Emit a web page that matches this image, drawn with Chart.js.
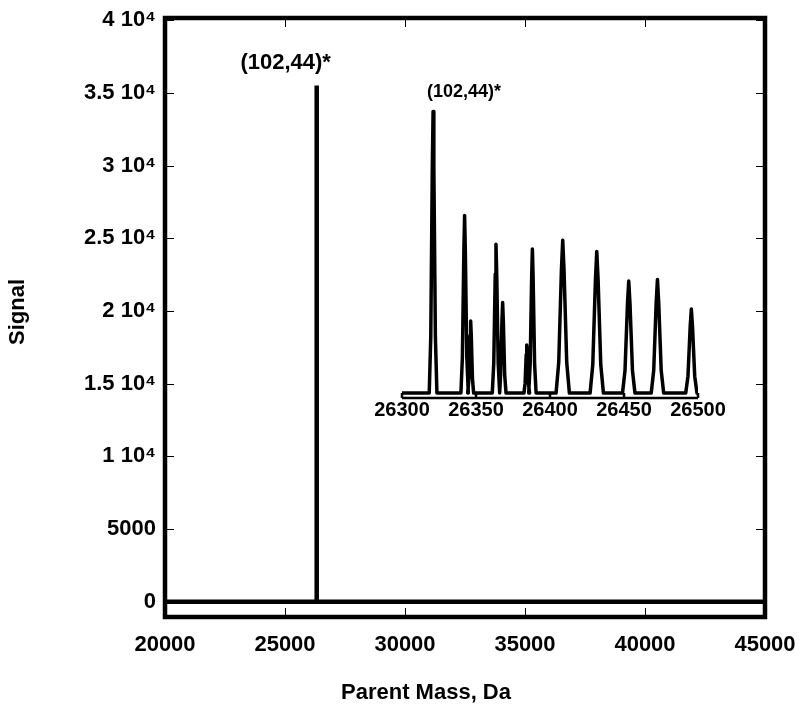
<!DOCTYPE html>
<html>
<head>
<meta charset="utf-8">
<script src="https://cdn.jsdelivr.net/npm/chart.js@4"></script>
<style>
  body { margin: 0; background: #fff; }
  #wrap { position: relative; width: 800px; height: 714px; }
  #main { position: absolute; left: 0; top: 0; }
  #inset { position: absolute; left: 360px; top: 70px; }
</style>
</head>
<body>
<div id="wrap">
  <canvas id="main" width="800" height="714"></canvas>
  <canvas id="inset" width="390" height="360"></canvas>
</div>
<script>
// main spectrum (one deconvoluted peak)
const mainMass = [20000, 26318, 26320, 26322, 45000];
const mainSignal = [0, 0, 35500, 0, 0];

const xTicks = [20000, 25000, 30000, 35000, 40000, 45000];
const yTicks = [0, 5000, 10000, 15000, 20000, 25000, 30000, 35000, 40000];
const yTickLabels = ["0", "5000", "1 10⁴", "1.5 10⁴", "2 10⁴", "2.5 10⁴", "3 10⁴", "3.5 10⁴", "4 10⁴"];

// inset: zoom on 26300-26500 Da
const insetMass = [26321, 26342.3, 26346.4, 26363.5, 26368, 26384.3, 26388.1, 26408.6, 26431.6, 26453.2, 26472.6, 26495.5];
const insetSignal = [35200, 22200, 9000, 18600, 11300, 6000, 18000, 19100, 17700, 14000, 14200, 10500];
const insetHalfWidth = [2.6, 2.5, 2, 2.5, 2.3, 1.9, 2.5, 4.5, 4.5, 4.2, 4.2, 3.8];
const insetTicks = [26300, 26350, 26400, 26450, 26500];

// peak outline used for every inset peak
const profileX = [-1, -0.6, -0.2, 0, 0.2, 0.6, 1];
const profileY = [0, 0.2, 0.8, 1, 0.8, 0.2, 0];

const peakLabel = "(102,44)*";
const FONT = "'Liberation Sans', Arial, sans-serif";

Chart.defaults.font.family = FONT;
Chart.defaults.font.weight = "bold";
Chart.defaults.color = "#000";

const mainPoints = mainMass.map((m, i) => ({ x: m, y: mainSignal[i] }));

const insetPoints = [{ x: 26300, y: 0 }];
insetMass.forEach((m, i) => {
  profileX.forEach((p, j) => {
    insetPoints.push({ x: m + p * insetHalfWidth[i], y: profileY[j] * insetSignal[i] });
  });
});
insetPoints.push({ x: 26500, y: 0 });

const mainDecor = {
  id: "mainDecor",
  afterDatasetsDraw(chart) {
    const { ctx, chartArea: a, scales } = chart;
    ctx.save();
    ctx.strokeStyle = "#000";
    ctx.lineWidth = 1;
    ctx.beginPath();
    xTicks.forEach((v) => {
      const px = Math.round(scales.x.getPixelForValue(v)) + 0.5;
      ctx.moveTo(px, a.bottom);
      ctx.lineTo(px, a.bottom - 9);
      ctx.moveTo(px, a.top);
      ctx.lineTo(px, a.top + 9);
    });
    yTicks.forEach((v) => {
      const py = Math.round(scales.y.getPixelForValue(v)) + 0.5;
      ctx.moveTo(a.left, py);
      ctx.lineTo(a.left + 9, py);
      ctx.moveTo(a.right, py);
      ctx.lineTo(a.right - 9, py);
    });
    ctx.stroke();
    ctx.lineWidth = 4.5;
    ctx.strokeRect(a.left, a.top, a.right - a.left, a.bottom - a.top);

    ctx.fillStyle = "#000";
    ctx.textAlign = "center";
    ctx.textBaseline = "middle";
    ctx.font = "bold 22px " + FONT;
    ctx.fillText(peakLabel, scales.x.getPixelForValue(26320) - 31, scales.y.getPixelForValue(35500) - 23);

    ctx.fillText("Parent Mass, Da", 426, 693);
    ctx.translate(18, 312);
    ctx.rotate(-Math.PI / 2);
    ctx.fillText("Signal", 0, 0);
    ctx.restore();
  },
};

const insetDecor = {
  id: "insetDecor",
  afterDatasetsDraw(chart) {
    const { ctx, chartArea: a, scales } = chart;
    const y0 = scales.y.getPixelForValue(0);
    ctx.save();
    ctx.strokeStyle = "#000";
    ctx.lineWidth = 2.5;
    ctx.beginPath();
    ctx.moveTo(a.left, a.bottom);
    ctx.lineTo(a.right, a.bottom);
    insetTicks.forEach((v) => {
      const px = scales.x.getPixelForValue(v);
      ctx.moveTo(px, y0);
      ctx.lineTo(px, a.bottom);
    });
    ctx.stroke();

    ctx.fillStyle = "#000";
    ctx.textAlign = "center";
    ctx.textBaseline = "middle";
    ctx.font = "bold 18px " + FONT;
    ctx.fillText(peakLabel, scales.x.getPixelForValue(insetMass[0]) + 31, scales.y.getPixelForValue(35500) - 17);
    ctx.restore();
  },
};

new Chart(document.getElementById("main"), {
  type: "line",
  data: {
    datasets: [
      {
        data: mainPoints,
        borderColor: "#000",
        borderWidth: 4.5,
        pointRadius: 0,
        tension: 0,
        fill: false,
      },
    ],
  },
  options: {
    responsive: false,
    animation: false,
    layout: { padding: { left: 0, right: 35, top: 18, bottom: 0 } },
    plugins: { legend: { display: false }, tooltip: { enabled: false } },
    scales: {
      x: {
        type: "linear",
        min: 20000,
        max: 45000,
        afterBuildTicks: (s) => { s.ticks = xTicks.map((v) => ({ value: v })); },
        afterFit: (s) => { s.height = 97; s.paddingLeft = 0; s.paddingRight = 0; },
        ticks: {
          font: { size: 22, weight: "bold" },
          padding: 15,
          maxRotation: 0,
          autoSkip: false,
          callback: (v) => String(v),
        },
        grid: { display: false, drawTicks: false },
        border: { display: false },
      },
      y: {
        min: -1050,
        max: 40150,
        afterBuildTicks: (s) => { s.ticks = yTicks.map((v) => ({ value: v })); },
        afterFit: (s) => { s.width = 165; s.paddingTop = 0; s.paddingBottom = 0; },
        ticks: {
          font: { size: 22, weight: "bold" },
          padding: 9,
          autoSkip: false,
          callback: (v) => yTickLabels[yTicks.indexOf(v)],
        },
        grid: { display: false, drawTicks: false },
        border: { display: false },
      },
    },
  },
  plugins: [mainDecor],
});

new Chart(document.getElementById("inset"), {
  type: "line",
  data: {
    datasets: [
      {
        data: insetPoints,
        borderColor: "#000",
        borderWidth: 3.5,
        borderJoinStyle: "round",
        pointRadius: 0,
        tension: 0,
        fill: false,
      },
    ],
  },
  options: {
    responsive: false,
    animation: false,
    layout: { padding: { left: 42, right: 52, top: 30, bottom: 0 } },
    plugins: { legend: { display: false }, tooltip: { enabled: false } },
    scales: {
      x: {
        type: "linear",
        min: 26300,
        max: 26500,
        afterBuildTicks: (s) => { s.ticks = insetTicks.map((v) => ({ value: v })); },
        afterFit: (s) => { s.height = 32; s.paddingLeft = 0; s.paddingRight = 0; },
        ticks: {
          font: { size: 20, weight: "bold" },
          padding: 0,
          maxRotation: 0,
          autoSkip: false,
          callback: (v) => String(v),
        },
        grid: { display: false, drawTicks: false },
        border: { display: false },
      },
      y: {
        display: false,
        min: -625,
        max: 36625,
      },
    },
  },
  plugins: [insetDecor],
});
</script>
</body>
</html>
